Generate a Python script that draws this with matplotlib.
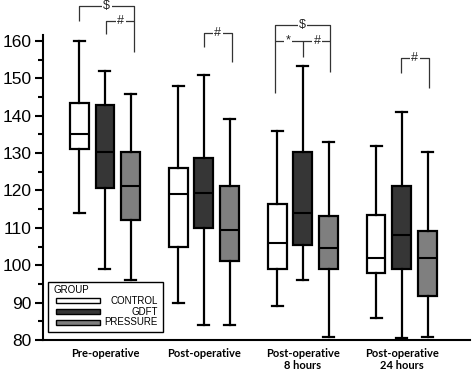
import matplotlib
matplotlib.use("Agg")
import matplotlib.pyplot as plt
from matplotlib.patches import Rectangle
from matplotlib.ticker import MultipleLocator
import numpy as np

groups = ["Pre-operative", "Post-operative", "Post-operative\n8 hours", "Post-operative\n24 hours"]
series = ["CONTROL", "GDFT", "PRESSURE"]

control_lo = [114, 90, 89, 86]
control_q1 = [131, 105, 99, 98]
control_med = [135, 119, 106, 102]
control_q3 = [143.3, 126, 116.4, 113.5]
control_hi = [160, 148, 136, 132]

gdft_lo = [99, 84, 96, 80.5]
gdft_q1 = [120.6, 110, 105.5, 99]
gdft_med = [130.4, 119.4, 114, 108.2]
gdft_q3 = [142.8, 128.8, 130.4, 121.1]
gdft_hi = [152, 151, 153.2, 141.1]

pressure_lo = [96, 84, 80.8, 80.8]
pressure_q1 = [112.2, 101.2, 99, 91.9]
pressure_med = [121.1, 109.3, 104.6, 102]
pressure_q3 = [130.3, 121.3, 113.2, 109.1]
pressure_hi = [145.8, 139, 133, 130.2]

stats_by_series = {
    "CONTROL": (control_lo, control_q1, control_med, control_q3, control_hi),
    "GDFT": (gdft_lo, gdft_q1, gdft_med, gdft_q3, gdft_hi),
    "PRESSURE": (pressure_lo, pressure_q1, pressure_med, pressure_q3, pressure_hi),
}
colors = {"CONTROL": "white", "GDFT": "#363636", "PRESSURE": "#7f7f7f"}
offsets = {"CONTROL": -0.26, "GDFT": 0.0, "PRESSURE": 0.26}

plt.rcParams['font.family'] = ['Liberation Sans', 'DejaVu Sans']

fig = plt.figure(figsize=(4.72, 3.71), dpi=100)
ax = fig.add_axes([0.091, 0.0836, 0.905, 0.822])

x = np.arange(1, len(groups) + 1)
for name in series:
    lo, q1, med, q3, hi = stats_by_series[name]
    stats = [dict(whislo=lo[i], q1=q1[i], med=med[i], q3=q3[i], whishi=hi[i], fliers=[])
             for i in range(len(groups))]
    ax.bxp(stats, positions=x + offsets[name], widths=0.19, capwidths=0.11,
           patch_artist=True, showfliers=False, manage_ticks=False,
           boxprops=dict(facecolor=colors[name], edgecolor='black', linewidth=1.6),
           medianprops=dict(color='black', linewidth=1.5),
           whiskerprops=dict(color='black', linewidth=1.6),
           capprops=dict(color='black', linewidth=1.6))

ax.set_xlim(0.374, 4.69)
ax.set_ylim(80, 161.6)
ax.yaxis.set_major_locator(MultipleLocator(10))
ax.yaxis.set_minor_locator(MultipleLocator(5))
ax.tick_params(axis='y', which='major', length=6, width=1.5, labelsize=12.5, pad=2)
ax.tick_params(axis='y', which='minor', length=3.5, width=1.5)
ax.set_xticks(x)
ax.set_xticklabels(groups, fontsize=8, fontweight='bold', family=['Lato', 'DejaVu Sans'],
                   linespacing=1.1)
ax.tick_params(axis='x', length=0, pad=6)
for s in ['top', 'right']:
    ax.spines[s].set_visible(False)
for s in ['left', 'bottom']:
    ax.spines[s].set_linewidth(1.5)


# significance brackets (drawn above the axes area)
def seg(xs, ys):
    ax.plot(xs, ys, color='#333333', lw=0.9, clip_on=False, solid_capstyle='butt')


def mark(xp, yp, s):
    ax.text(xp, yp, s, ha='center', va='center', fontsize=9, color='#222222',
            bbox=dict(fc='white', ec='none', pad=1.0), clip_on=False, zorder=5)


# pre-operative
seg([0.737, 0.737, 1.293, 1.293], [165.3, 169.4, 169.4, 157.1])
mark(1.02, 169.4, "$")
seg([1.007, 1.007, 1.293], [161.9, 165.4, 165.4])
mark(1.16, 165.4, "#")
# post-operative
seg([2.0, 2.0, 2.28, 2.28], [158.5, 162.2, 162.2, 154.4])
mark(2.14, 162.2, "#")
# post-operative 8 hours
seg([2.717, 2.717, 3.273, 3.273], [146.2, 164.3, 164.3, 151.8])
mark(2.997, 164.3, "$")
seg([2.717, 3.273], [160.1, 160.1])
seg([2.997, 2.997], [160.1, 155.8])
mark(2.848, 160.1, "*")
mark(3.144, 160.1, "#")
# post-operative 24 hours
seg([3.987, 3.987, 4.273, 4.273], [151.5, 155.4, 155.4, 147.5])
mark(4.131, 155.4, "#")

# legend drawn by hand so the labels are right aligned like the original
ax.add_patch(Rectangle((0.0124, 0.027), 0.269, 0.162, transform=ax.transAxes,
                       fc='white', ec='black', lw=1.0, zorder=6))
ax.text(0.0258, 0.164, "GROUP", transform=ax.transAxes, fontsize=7, va='center',
        ha='left', zorder=7)
for name, yc in zip(series, [0.129, 0.0928, 0.058]):
    ax.add_patch(Rectangle((0.0304, yc - 0.008), 0.103, 0.016, transform=ax.transAxes,
                           fc=colors[name], ec='black', lw=1.0, zorder=7))
    ax.text(0.268, yc, name, transform=ax.transAxes, fontsize=7, va='center',
            ha='right', zorder=7)

fig.savefig("out.png", dpi=100)
